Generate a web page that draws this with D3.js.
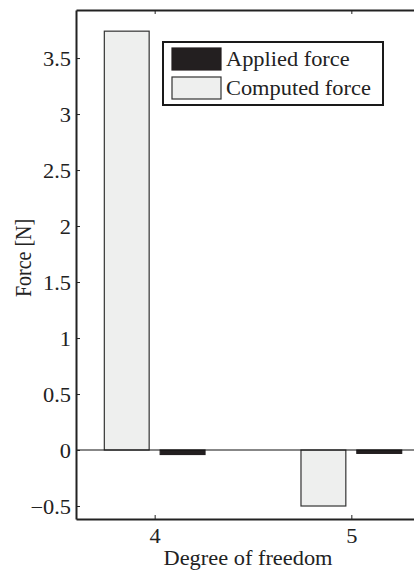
<!DOCTYPE html>
<html>
<head>
<meta charset="utf-8">
<script src="https://cdn.jsdelivr.net/npm/d3@7/dist/d3.min.js"></script>
<style>
  html, body { margin: 0; padding: 0; background: #fff; }
  svg { display: block; }
  svg text { font-family: 'Liberation Serif', 'DejaVu Serif', serif !important; fill: #222; }
</style>
</head>
<body>
<svg id="chart" width="414" height="572"></svg>
<script>
// Degrees of freedom and forces per series
const dofs = [4, 5];
const computedForce = [3.74, -0.50];
const appliedForce = [-0.04, -0.03];
const yTicks = [-0.5, 0, 0.5, 1, 1.5, 2, 2.5, 3, 3.5];
const xTicks = [4, 5];
const seriesNames = ["Applied force", "Computed force"];

const svg = d3.select("#chart");
const serif = "'Liberation Serif', 'DejaVu Serif', serif";
const fontSize = 20;
const stretch = 1.12;
const axisColor = "#222";

const x = d3.scaleLinear().domain([3.6, 5.4]).range([76, 430]);
const y = d3.scaleLinear().domain([-0.616, 3.929]).range([519, 10]);

const barW = 0.228;
const offset = 0.142;

const series = [
  { name: seriesNames[1], values: computedForce, shift: -offset, fill: "#eeefee", stroke: "#333" },
  { name: seriesNames[0], values: appliedForce, shift: offset, fill: "#231f20", stroke: "#231f20" }
];

// Bars
series.forEach(s => {
  svg.append("g").selectAll("rect")
    .data(dofs.map((d, i) => ({ d, v: s.values[i] })))
    .join("rect")
    .attr("x", p => x(p.d + s.shift - barW / 2))
    .attr("width", p => x(p.d + s.shift + barW / 2) - x(p.d + s.shift - barW / 2))
    .attr("y", p => y(Math.max(0, p.v)))
    .attr("height", p => Math.abs(y(p.v) - y(0)))
    .attr("fill", s.fill)
    .attr("stroke", s.stroke)
    .attr("stroke-width", 1.2);
});

// Zero baseline
svg.append("line")
  .attr("x1", x(3.6)).attr("x2", x(5.4))
  .attr("y1", y(0)).attr("y2", y(0))
  .attr("stroke", "#111").attr("stroke-width", 1.2);

// Left axis with inward ticks
const fmt = v => (v < 0 ? "\u2212" : "") + d3.format("")(Math.abs(v));
const yAxis = d3.axisLeft(y).tickValues(yTicks).tickSizeInner(-4).tickSizeOuter(0).tickFormat(fmt);
const gy = svg.append("g").attr("transform", `translate(${x(3.6)},0)`).call(yAxis)
  .attr("font-family", null).style("font-family", serif);
gy.select(".domain").attr("stroke", axisColor).attr("stroke-width", 2);
gy.selectAll(".tick line").attr("stroke", axisColor).attr("stroke-width", 1);
gy.selectAll(".tick text")
  .style("font-family", serif)
  .style("font-size", fontSize + "px")
  .attr("fill", "#222")
  .attr("x", null).attr("dy", null)
  .attr("text-anchor", "end")
  .attr("transform", "translate(-5,7) scale(" + stretch + ",1)");

// Bottom axis with inward ticks
const xAxis = d3.axisBottom(x).tickValues(xTicks).tickSizeInner(-4).tickSizeOuter(0).tickFormat(d3.format("d"));
const gx = svg.append("g").attr("transform", `translate(0,${y(-0.616)})`).call(xAxis)
  .attr("font-family", null).style("font-family", serif);
gx.select(".domain").attr("stroke", axisColor).attr("stroke-width", 2);
gx.selectAll(".tick line").attr("stroke", axisColor).attr("stroke-width", 1);
gx.selectAll(".tick text")
  .style("font-family", serif)
  .style("font-size", fontSize + "px")
  .attr("fill", "#222")
  .attr("y", null).attr("dy", null)
  .attr("text-anchor", "middle")
  .attr("transform", "translate(0,24) scale(" + stretch + ",1)");

// Top border with downward ticks
const xTop = d3.axisTop(x).tickValues(xTicks).tickSizeInner(-4).tickSizeOuter(0).tickFormat("");
const gt = svg.append("g").attr("transform", `translate(0,${y(3.929)})`).call(xTop);
gt.select(".domain").attr("stroke", axisColor).attr("stroke-width", 2);
gt.selectAll(".tick line").attr("stroke", axisColor).attr("stroke-width", 1);

// Axis titles
svg.append("text")
  .attr("transform", `translate(248,565) scale(${stretch},1)`)
  .attr("text-anchor", "middle")
  .style("font-family", serif)
  .style("font-size", fontSize + "px")
  .text("Degree of freedom");

svg.append("text")
  .attr("transform", `translate(31,258) scale(${stretch},1) rotate(-90)`)
  .attr("text-anchor", "middle")
  .style("font-family", serif)
  .style("font-size", fontSize + "px")
  .text("Force [N]");

// Legend
const legend = svg.append("g");
legend.append("rect")
  .attr("x", 163).attr("y", 42).attr("width", 220).attr("height", 63)
  .attr("fill", "#fff").attr("stroke", "#1a1a1a").attr("stroke-width", 2);
const legendItems = [
  { name: seriesNames[0], fill: "#231f20", stroke: "#231f20" },
  { name: seriesNames[1], fill: "#eeefee", stroke: "#333" }
];
legendItems.forEach((it, i) => {
  legend.append("rect")
    .attr("x", 172).attr("y", 48 + i * 29).attr("width", 49).attr("height", 22)
    .attr("fill", it.fill).attr("stroke", it.stroke).attr("stroke-width", 1.2);
  legend.append("text")
    .attr("transform", `translate(226,${66 + i * 29}) scale(${stretch},1)`)
    .style("font-family", serif)
    .style("font-size", fontSize + "px")
    .text(it.name);
});
</script>
</body>
</html>
